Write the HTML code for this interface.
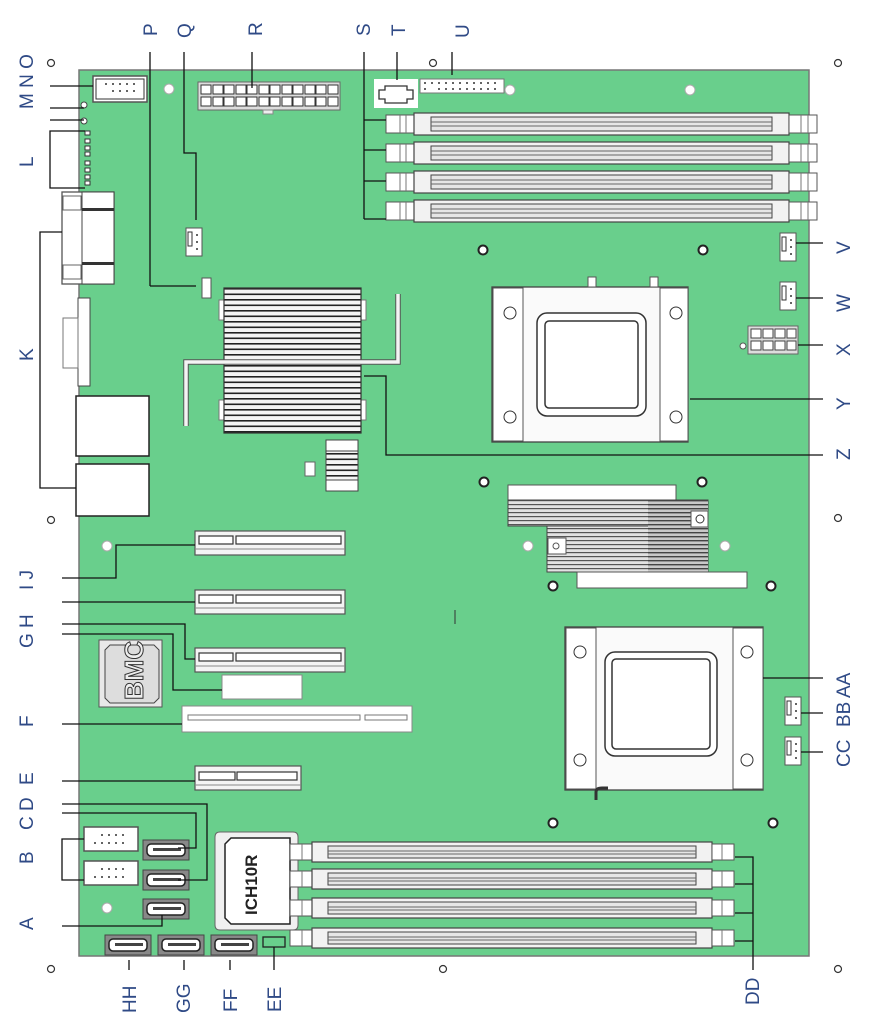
<!DOCTYPE html>
<html><head><meta charset="utf-8"><style>
html,body{margin:0;padding:0;background:#fff;width:869px;height:1028px;overflow:hidden}
svg{display:block}
.l{font-family:"Liberation Sans",sans-serif;font-size:19px;fill:#2f4a86}
</style></head><body>
<svg width="869" height="1028" viewBox="0 0 869 1028" xmlns="http://www.w3.org/2000/svg">
<defs>
<pattern id="fins" x="0" y="288" width="10" height="5.5" patternUnits="userSpaceOnUse">
  <rect width="10" height="5.5" fill="#f4f4f4"/><rect y="0" width="10" height="1.6" fill="#222"/>
</pattern>
<pattern id="fins2" x="0" y="0" width="10" height="4" patternUnits="userSpaceOnUse">
  <rect width="10" height="4" fill="#e2e2e2"/><rect y="0" width="10" height="1.2" fill="#555"/>
</pattern>
<pattern id="fins3" x="0" y="0" width="10" height="4" patternUnits="userSpaceOnUse">
  <rect width="10" height="4" fill="#c8c8c8"/><rect y="0" width="10" height="1.4" fill="#444"/>
</pattern>
<g id="dimm">
  <rect x="0" y="-9" width="28" height="18" fill="#fff" stroke="#555" stroke-width="1"/>
  <line x1="14" y1="-9" x2="14" y2="9" stroke="#777"/><line x1="20" y1="-9" x2="20" y2="9" stroke="#777"/>
  <rect x="28" y="-11" width="375" height="22" fill="#f2f2f2" stroke="#444" stroke-width="1.2"/>
  <rect x="45" y="-7" width="341" height="14" fill="#e6e6e6" stroke="#444"/>
  <line x1="45" y1="-2" x2="386" y2="-2" stroke="#666"/><line x1="45" y1="2" x2="386" y2="2" stroke="#666"/>
  <rect x="403" y="-9" width="28" height="18" fill="#fff" stroke="#555"/>
  <line x1="415" y1="-9" x2="415" y2="9" stroke="#777"/><line x1="422" y1="-9" x2="422" y2="9" stroke="#777"/>
</g>
<g id="dimm2">
  <rect x="0" y="-8" width="22" height="16" fill="#fff" stroke="#555"/>
  <line x1="12" y1="-8" x2="12" y2="8" stroke="#777"/>
  <rect x="22" y="-10" width="400" height="20" fill="#f2f2f2" stroke="#444" stroke-width="1.2"/>
  <rect x="38" y="-6" width="368" height="12" fill="#e6e6e6" stroke="#444"/>
  <line x1="38" y1="-1" x2="406" y2="-1" stroke="#666"/><line x1="38" y1="2" x2="406" y2="2" stroke="#666"/>
  <rect x="422" y="-8" width="22" height="16" fill="#fff" stroke="#555"/>
  <line x1="432" y1="-8" x2="432" y2="8" stroke="#777"/>
</g>
<g id="pcie">
  <rect x="0" y="0" width="150" height="24" fill="#f4f4f4" stroke="#555" stroke-width="1.2"/>
  <rect x="4" y="5" width="34" height="8" fill="#fff" stroke="#333" stroke-width="1.2"/>
  <rect x="41" y="5" width="105" height="8" fill="#fff" stroke="#333" stroke-width="1.2"/>
  <line x1="0" y1="18" x2="150" y2="18" stroke="#888"/>
</g>
<g id="sata">
  <rect x="0" y="0" width="46" height="20" fill="#888" stroke="#444"/>
  <rect x="4" y="4" width="38" height="12" rx="4" fill="#fff" stroke="#222" stroke-width="1.5"/>
  <rect x="10" y="8" width="28" height="3" fill="#444"/>
</g>
<g id="fan">
  <rect x="0" y="0" width="16" height="28" fill="#fff" stroke="#555"/>
  <rect x="2" y="4" width="4" height="14" fill="#fff" stroke="#333"/>
  <circle cx="11" cy="7" r="1" fill="#333"/><circle cx="11" cy="14" r="1" fill="#333"/><circle cx="11" cy="21" r="1" fill="#333"/>
</g>
</defs>

<rect x="79" y="70" width="730" height="886" fill="#69cf8c" stroke="#777" stroke-width="1.5"/>
<rect x="374" y="79" width="44" height="29" fill="#fff"/>

<g fill="#fff" stroke="#333" stroke-width="1.2">
<circle cx="51" cy="63" r="3.5"/><circle cx="838" cy="63" r="3.5"/><circle cx="433" cy="63" r="3.5"/>
<circle cx="51" cy="520" r="3.5"/><circle cx="838" cy="518" r="3.5"/>
<circle cx="51" cy="969" r="3.5"/><circle cx="443" cy="969" r="3.5"/><circle cx="838" cy="969" r="3.5"/>
</g>
<g fill="#fff" stroke="#222" stroke-width="2">
<circle cx="483" cy="250" r="4.5"/><circle cx="703" cy="250" r="4.5"/>
<circle cx="484" cy="482" r="4.5"/><circle cx="702" cy="482" r="4.5"/>
<circle cx="553" cy="823" r="4.5"/><circle cx="773" cy="823" r="4.5"/>
<circle cx="553" cy="586" r="4.5"/><circle cx="771" cy="586" r="4.5"/>
</g>
<g fill="#fff" stroke="#aaa" stroke-width="1">
<circle cx="169" cy="89" r="5"/><circle cx="510" cy="90" r="5"/><circle cx="690" cy="90" r="5"/>
<circle cx="107" cy="546" r="5"/><circle cx="528" cy="546" r="5"/><circle cx="725" cy="546" r="5"/>
<circle cx="107" cy="908" r="5"/>
</g>

<rect x="93" y="76" width="54" height="26" fill="#fff" stroke="#555" stroke-width="1.5"/>
<rect x="96" y="79" width="48" height="20" fill="#fff" stroke="#333"/>
<g fill="#333"><circle cx="106" cy="84" r="1"/><circle cx="113" cy="84" r="1"/><circle cx="120" cy="84" r="1"/><circle cx="127" cy="84" r="1"/><circle cx="134" cy="84" r="1"/><circle cx="113" cy="91" r="1"/><circle cx="120" cy="91" r="1"/><circle cx="127" cy="91" r="1"/><circle cx="134" cy="91" r="1"/></g>
<circle cx="84" cy="105" r="3" fill="#fff" stroke="#444"/><circle cx="84" cy="121" r="3" fill="#fff" stroke="#444"/>
<g fill="#fff" stroke="#333"><rect x="85" y="131" width="5" height="4"/><rect x="85" y="139" width="5" height="4"/><rect x="85" y="146" width="5" height="4"/><rect x="85" y="152" width="5" height="4"/><rect x="85" y="161" width="5" height="4"/><rect x="85" y="168" width="5" height="4"/><rect x="85" y="175" width="5" height="4"/><rect x="85" y="181" width="5" height="4"/></g>

<rect x="198" y="82" width="142" height="28" fill="#ddd" stroke="#666"/>
<g fill="#fff" stroke="#333">
<rect x="201" y="85" width="10" height="9"/><rect x="213" y="85" width="10" height="9"/><rect x="224" y="85" width="10" height="9"/><rect x="236" y="85" width="10" height="9"/><rect x="247" y="85" width="10" height="9"/><rect x="259" y="85" width="10" height="9"/><rect x="270" y="85" width="10" height="9"/><rect x="282" y="85" width="10" height="9"/><rect x="293" y="85" width="10" height="9"/><rect x="305" y="85" width="10" height="9"/><rect x="316" y="85" width="10" height="9"/><rect x="328" y="85" width="10" height="9"/>
<rect x="201" y="97" width="10" height="9"/><rect x="213" y="97" width="10" height="9"/><rect x="224" y="97" width="10" height="9"/><rect x="236" y="97" width="10" height="9"/><rect x="247" y="97" width="10" height="9"/><rect x="259" y="97" width="10" height="9"/><rect x="270" y="97" width="10" height="9"/><rect x="282" y="97" width="10" height="9"/><rect x="293" y="97" width="10" height="9"/><rect x="305" y="97" width="10" height="9"/><rect x="316" y="97" width="10" height="9"/><rect x="328" y="97" width="10" height="9"/>
</g>
<rect x="263" y="110" width="10" height="4" fill="#eee" stroke="#888"/>
<path d="M379 90 h6 v-4 h22 v4 h6 v9 h-6 v4 h-22 v-4 h-6z" fill="#fff" stroke="#333" stroke-width="1.3"/>
<rect x="420" y="79" width="84" height="14" fill="#fff" stroke="#777"/>
<g fill="#333"><circle cx="425" cy="83" r="1"/><circle cx="432" cy="83" r="1"/><circle cx="439" cy="83" r="1"/><circle cx="446" cy="83" r="1"/><circle cx="453" cy="83" r="1"/><circle cx="460" cy="83" r="1"/><circle cx="467" cy="83" r="1"/><circle cx="474" cy="83" r="1"/><circle cx="481" cy="83" r="1"/><circle cx="488" cy="83" r="1"/><circle cx="495" cy="83" r="1"/><circle cx="425" cy="89" r="1"/><circle cx="439" cy="89" r="1"/><circle cx="446" cy="89" r="1"/><circle cx="453" cy="89" r="1"/><circle cx="460" cy="89" r="1"/><circle cx="467" cy="89" r="1"/><circle cx="474" cy="89" r="1"/><circle cx="481" cy="89" r="1"/><circle cx="488" cy="89" r="1"/><circle cx="495" cy="89" r="1"/></g>

<use href="#dimm" x="386" y="124"/><use href="#dimm" x="386" y="153"/><use href="#dimm" x="386" y="182"/><use href="#dimm" x="386" y="211"/>

<use href="#fan" x="186" y="228"/>
<rect x="202" y="278" width="9" height="20" fill="#fff" stroke="#555"/>

<rect x="62" y="192" width="52" height="92" fill="#fff" stroke="#555" stroke-width="1.3"/>
<rect x="82" y="192" width="32" height="92" fill="#fff" stroke="#444"/>
<rect x="82" y="208" width="32" height="3" fill="#333"/><rect x="82" y="262" width="32" height="3" fill="#333"/>
<rect x="63" y="196" width="18" height="14" fill="#fff" stroke="#666"/><rect x="63" y="265" width="18" height="14" fill="#fff" stroke="#666"/>
<rect x="78" y="298" width="12" height="88" fill="#fff" stroke="#444"/>
<rect x="63" y="318" width="15" height="50" fill="#fff" stroke="#777"/>
<rect x="76" y="396" width="73" height="60" fill="#fff" stroke="#222" stroke-width="1.5"/>
<rect x="76" y="464" width="73" height="52" fill="#fff" stroke="#222" stroke-width="1.5"/>

<!-- main heatsink -->
<rect x="219" y="300" width="8" height="20" fill="#fff" stroke="#777"/><rect x="358" y="300" width="8" height="20" fill="#fff" stroke="#777"/>
<rect x="219" y="400" width="8" height="20" fill="#fff" stroke="#777"/><rect x="358" y="400" width="8" height="20" fill="#fff" stroke="#777"/>
<rect x="224" y="288" width="137" height="145" fill="url(#fins)" stroke="#333" stroke-width="1.2"/>
<path d="M186 426 V362 H398 V294" fill="none" stroke="#555" stroke-width="5.5"/>
<path d="M186 426 V362 H398 V294" fill="none" stroke="#f4f4f4" stroke-width="3.5"/>
<rect x="326" y="440" width="32" height="51" fill="url(#fins)" stroke="#444"/>
<rect x="326" y="440" width="32" height="11" fill="#fff" stroke="#444"/><rect x="326" y="480" width="32" height="11" fill="#fff" stroke="#444"/>
<rect x="305" y="462" width="10" height="14" fill="#fff" stroke="#666"/>

<rect x="492" y="287" width="196" height="155" fill="#fafafa" stroke="#444" stroke-width="1.3"/>
<rect x="493" y="288" width="30" height="153" fill="#fff" stroke="#555"/>
<rect x="660" y="288" width="28" height="153" fill="#fff" stroke="#555"/>
<rect x="537" y="313" width="109" height="103" rx="10" fill="#fff" stroke="#333" stroke-width="1.5"/>
<rect x="545" y="321" width="93" height="87" rx="4" fill="#fff" stroke="#333" stroke-width="1.5"/>
<circle cx="510" cy="313" r="6" fill="#fff" stroke="#333"/><circle cx="510" cy="417" r="6" fill="#fff" stroke="#333"/>
<circle cx="676" cy="313" r="6" fill="#fff" stroke="#333"/><circle cx="676" cy="417" r="6" fill="#fff" stroke="#333"/>
<rect x="588" y="277" width="8" height="10" fill="#fff" stroke="#555"/><rect x="650" y="277" width="8" height="10" fill="#fff" stroke="#555"/>

<use href="#fan" x="780" y="233"/>
<use href="#fan" x="780" y="282"/>
<rect x="748" y="326" width="50" height="28" fill="#ddd" stroke="#666"/>
<g fill="#fff" stroke="#444"><rect x="751" y="329" width="10" height="9"/><rect x="763" y="329" width="10" height="9"/><rect x="775" y="329" width="10" height="9"/><rect x="787" y="329" width="9" height="9"/><rect x="751" y="341" width="10" height="9"/><rect x="763" y="341" width="10" height="9"/><rect x="775" y="341" width="10" height="9"/><rect x="787" y="341" width="9" height="9"/></g>
<circle cx="743" cy="346" r="3" fill="#fff" stroke="#555"/>

<!-- chipset heatsink -->
<rect x="508" y="485" width="168" height="15" fill="#fff" stroke="#555"/>
<rect x="508" y="500" width="200" height="26" fill="url(#fins2)" stroke="#444"/>
<rect x="547" y="526" width="161" height="46" fill="url(#fins2)" stroke="#444"/>
<rect x="648" y="500" width="60" height="72" fill="url(#fins3)"/>
<rect x="691" y="511" width="17" height="16" fill="#fff" stroke="#555"/><circle cx="700" cy="519" r="4" fill="#fff" stroke="#333"/>
<rect x="548" y="538" width="18" height="16" fill="#fff" stroke="#555"/><circle cx="556" cy="546" r="3" fill="#fff" stroke="#555"/>
<rect x="577" y="572" width="170" height="16" fill="#fff" stroke="#555"/>

<rect x="565" y="627" width="198" height="163" fill="#fafafa" stroke="#444" stroke-width="1.3"/>
<rect x="566" y="628" width="30" height="161" fill="#fff" stroke="#555"/>
<rect x="733" y="628" width="30" height="161" fill="#fff" stroke="#555"/>
<rect x="605" y="652" width="112" height="104" rx="10" fill="#fff" stroke="#333" stroke-width="1.5"/>
<rect x="612" y="659" width="98" height="90" rx="4" fill="#fff" stroke="#333" stroke-width="1.5"/>
<circle cx="580" cy="652" r="6" fill="#fff" stroke="#333"/><circle cx="580" cy="760" r="6" fill="#fff" stroke="#333"/>
<circle cx="747" cy="652" r="6" fill="#fff" stroke="#333"/><circle cx="747" cy="760" r="6" fill="#fff" stroke="#333"/>
<path d="M596 800 v-8 q0 -4 6 -4 h6" fill="none" stroke="#333" stroke-width="3"/>
<use href="#fan" x="785" y="697"/>
<use href="#fan" x="785" y="737"/>

<use href="#pcie" x="195" y="531"/>
<use href="#pcie" x="195" y="590"/>
<use href="#pcie" x="195" y="648"/>
<rect x="222" y="675" width="80" height="24" fill="#fff" stroke="#888"/>
<rect x="182" y="706" width="230" height="26" fill="#fff" stroke="#888"/>
<rect x="188" y="715" width="172" height="5" fill="#fff" stroke="#777"/>
<rect x="365" y="715" width="42" height="5" fill="#fff" stroke="#777"/>
<g transform="translate(195,766)">
<rect x="0" y="0" width="106" height="24" fill="#f4f4f4" stroke="#555" stroke-width="1.2"/>
<rect x="4" y="6" width="36" height="8" fill="#fff" stroke="#333" stroke-width="1.2"/>
<rect x="42" y="6" width="60" height="8" fill="#fff" stroke="#333" stroke-width="1.2"/>
<line x1="0" y1="19" x2="106" y2="19" stroke="#888"/></g>
<rect x="99" y="640" width="63" height="67" fill="#e8e8e8" stroke="#555"/>
<path d="M110 645 h44 l5 5 v48 l-5 5 h-44 l-5 -5 v-48z" fill="#ddd" stroke="#444"/>
<text x="0" y="0" transform="translate(143,700) rotate(-90)" font-family="Liberation Sans,sans-serif" font-size="26" font-weight="bold" fill="#eee" stroke="#333" stroke-width="1">BMC</text>
<line x1="455" y1="610" x2="455" y2="624" stroke="#333"/>

<rect x="84" y="827" width="54" height="24" fill="#fff" stroke="#555" stroke-width="1.5"/>
<rect x="84" y="861" width="54" height="24" fill="#fff" stroke="#555" stroke-width="1.5"/>
<g fill="#333"><circle cx="102" cy="835" r="1"/><circle cx="109" cy="835" r="1"/><circle cx="116" cy="835" r="1"/><circle cx="123" cy="835" r="1"/><circle cx="95" cy="843" r="1"/><circle cx="102" cy="843" r="1"/><circle cx="109" cy="843" r="1"/><circle cx="116" cy="843" r="1"/><circle cx="123" cy="843" r="1"/>
<circle cx="102" cy="869" r="1"/><circle cx="109" cy="869" r="1"/><circle cx="116" cy="869" r="1"/><circle cx="123" cy="869" r="1"/><circle cx="95" cy="877" r="1"/><circle cx="102" cy="877" r="1"/><circle cx="109" cy="877" r="1"/><circle cx="116" cy="877" r="1"/><circle cx="123" cy="877" r="1"/></g>
<use href="#sata" x="143" y="840"/><use href="#sata" x="143" y="870"/><use href="#sata" x="143" y="899"/>
<use href="#sata" x="105" y="935"/><use href="#sata" x="158" y="935"/><use href="#sata" x="211" y="935"/>
<rect x="263" y="937" width="22" height="10" fill="#69cf8c" stroke="#222" stroke-width="1.3"/>
<path d="M215 837 q0 -5 5 -5 h73 q5 0 5 5 v88 q0 5 -5 5 h-73 q-5 0 -5 -5z" fill="#f0f0f0" stroke="#666"/>
<path d="M225 844 l6 -6 h59 v86 h-59 l-6 -6z" fill="#fff" stroke="#222" stroke-width="1.5"/>
<text transform="translate(257,915) rotate(-90)" font-family="Liberation Sans,sans-serif" font-size="17" font-weight="bold" fill="#222">ICH10R</text>
<use href="#dimm2" x="290" y="852"/><use href="#dimm2" x="290" y="879"/><use href="#dimm2" x="290" y="908"/><use href="#dimm2" x="290" y="938"/>

<g fill="none" stroke="#111" stroke-width="1.3">
<line x1="150" y1="52" x2="150" y2="286"/><line x1="150" y1="286" x2="196" y2="286"/>
<path d="M184 52 V153 H196 V220"/>
<line x1="252" y1="52" x2="252" y2="88"/>
<path d="M364 52 V219 M364 120 H386 M364 150 H386 M364 181 H386 M364 219 H386"/>
<line x1="397" y1="52" x2="397" y2="80"/>
<line x1="452" y1="52" x2="452" y2="75"/>
<line x1="50" y1="86" x2="93" y2="86"/>
<line x1="50" y1="108" x2="84" y2="108"/><line x1="50" y1="120" x2="84" y2="120"/>
<path d="M85 131 H50 V188 H85"/>
<path d="M62 232 H40 V488 H76"/>
<line x1="796" y1="243" x2="823" y2="243"/><line x1="796" y1="298" x2="823" y2="298"/><line x1="798" y1="345" x2="823" y2="345"/>
<line x1="690" y1="399" x2="823" y2="399"/>
<path d="M364 376 H386 V455 H823"/>
<path d="M763 678 H823"/><line x1="801" y1="713" x2="823" y2="713"/><line x1="801" y1="752" x2="823" y2="752"/>
<path d="M62 578 H116 V545 H195"/>
<line x1="62" y1="602" x2="195" y2="602"/>
<path d="M62 624 H185 V659 H195"/>
<path d="M62 634 H173 V690 H222"/>
<line x1="62" y1="724" x2="182" y2="724"/>
<line x1="62" y1="781" x2="195" y2="781"/>
<path d="M62 804 H207 V880 H178"/>
<path d="M62 813 H196 V848 H178"/>
<path d="M84 839 H62 V880 H84"/>
<path d="M62 926 H162 V915"/>
<line x1="129" y1="960" x2="129" y2="970"/><line x1="184" y1="960" x2="184" y2="970"/><line x1="230" y1="960" x2="230" y2="970"/>
<line x1="274" y1="947" x2="274" y2="970"/>
<path d="M735 857 H753 V970 M735 884 H753 M735 913 H753 M735 941 H753"/>
</g>

<g class="l">
<text transform="translate(157,36) rotate(-90)">P</text>
<text transform="translate(191,38) rotate(-90)">Q</text>
<text transform="translate(262,36) rotate(-90)">R</text>
<text transform="translate(370,36) rotate(-90)">S</text>
<text transform="translate(405,36) rotate(-90)">T</text>
<text transform="translate(469,38) rotate(-90)">U</text>
<text transform="translate(33,109) rotate(-90)">M N O</text>
<text transform="translate(33,167) rotate(-90)">L</text>
<text transform="translate(33,361) rotate(-90)">K</text>
<text transform="translate(33,590) rotate(-90)">I J</text>
<text transform="translate(33,648) rotate(-90)">G H</text>
<text transform="translate(33,727) rotate(-90)">F</text>
<text transform="translate(33,785) rotate(-90)">E</text>
<text transform="translate(33,830) rotate(-90)">C D</text>
<text transform="translate(33,864) rotate(-90)">B</text>
<text transform="translate(33,930) rotate(-90)">A</text>
<text transform="translate(850,254) rotate(-90)">V</text>
<text transform="translate(850,312) rotate(-90)">W</text>
<text transform="translate(850,356) rotate(-90)">X</text>
<text transform="translate(850,410) rotate(-90)">Y</text>
<text transform="translate(850,460) rotate(-90)">Z</text>
<text transform="translate(850,698) rotate(-90)">AA</text>
<text transform="translate(850,727) rotate(-90)">BB</text>
<text transform="translate(850,767) rotate(-90)">CC</text>
<text transform="translate(759,1005) rotate(-90)">DD</text>
<text transform="translate(136,1013) rotate(-90)">HH</text>
<text transform="translate(190,1013) rotate(-90)">GG</text>
<text transform="translate(237,1012) rotate(-90)">FF</text>
<text transform="translate(281,1012) rotate(-90)">EE</text>
</g>
</svg>
</body></html>
